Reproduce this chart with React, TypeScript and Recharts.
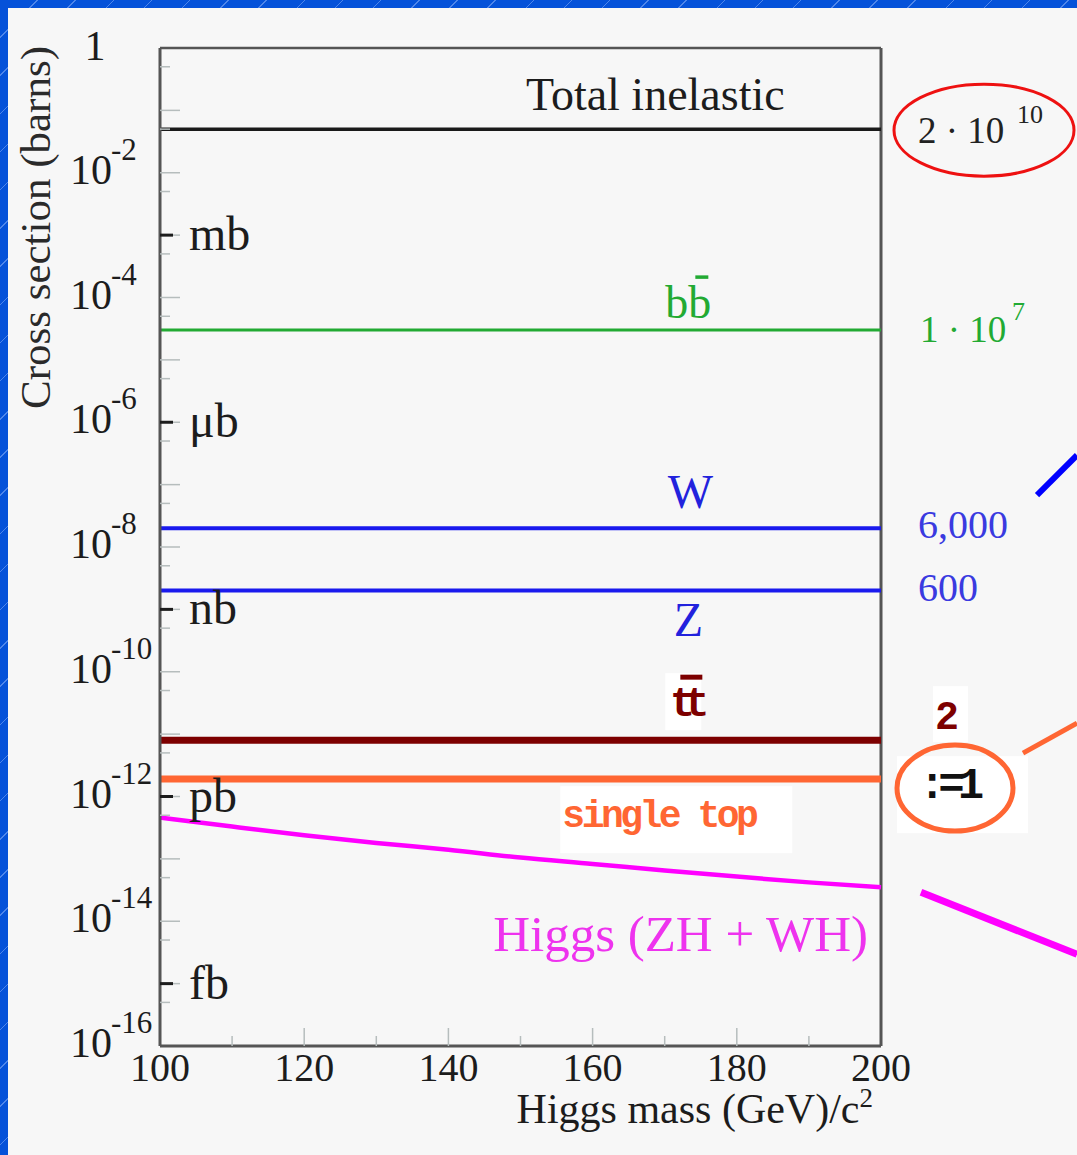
import React from 'react';
import { LineChart, Line, XAxis, YAxis, ReferenceLine, ReferenceDot } from 'recharts';

// Higgs mass scan (GeV/c^2) and ZH + WH cross section (barns)
const masses = [100, 110, 120, 130, 140, 150, 160, 170, 180, 190, 200];
const higgsXsec = [4.6e-13, 3.3e-13, 2.4e-13, 1.8e-13, 1.4e-13, 1.05e-13, 8.3e-14, 6.5e-14, 5.2e-14, 4.2e-14, 3.5e-14];

// flat background processes (barns)
const totalInelastic = 5e-2;
const bbbar = 3e-5;
const wBoson = 2e-8;
const zBoson = 2e-9;
const ttbar = 8e-12;
const singleTop = 1.9e-12;

// axis ticks
const massTicks = [100, 110, 120, 130, 140, 150, 160, 170, 180, 190, 200];
const massLabels = [100, 120, 140, 160, 180, 200];
const decadeTicks = [1, 1e-1, 1e-2, 1e-3, 1e-4, 1e-5, 1e-6, 1e-7, 1e-8, 1e-9, 1e-10, 1e-11, 1e-12, 1e-13, 1e-14, 1e-15, 1e-16];
const halfTicks = [5e-1, 5e-2, 5e-3, 5e-4, 5e-5, 5e-6, 5e-7, 5e-8, 5e-9, 5e-10, 5e-11, 5e-12, 5e-13, 5e-14, 5e-15, 5e-16];
const labelledTicks = [1, 1e-2, 1e-4, 1e-6, 1e-8, 1e-10, 1e-12, 1e-14, 1e-16];
const labelledExponents = ['0', '-2', '-4', '-6', '-8', '-10', '-12', '-14', '-16'];
const unitValues = [1e-3, 1e-6, 1e-9, 1e-12, 1e-15];
const unitNames = ['mb', 'μb', 'nb', 'pb', 'fb'];

const SERIF = '"Liberation Serif", "Times New Roman", serif';
const MONO = '"Liberation Mono", "Courier New", monospace';
const INK = '#1c1c1c';
const FRAME = '#555';
const MINOR = '#b6bdbd';

const rows = masses.map((m, i) => ({
  mass: m,
  higgs: higgsXsec[i],
  total: totalInelastic,
  bb: bbbar,
  w: wBoson,
  z: zBoson,
  tt: ttbar,
  st: singleTop,
}));

const yTickValues = [...decadeTicks, ...halfTicks].sort((a, b) => b - a);

const YTick = (props: any) => {
  const { x, y, payload } = props;
  const v = payload.value;
  const isDecade = decadeTicks.includes(v);
  const unitIdx = unitValues.indexOf(v);
  const labelIdx = labelledTicks.indexOf(v);
  const edge = v === 1 || v === 1e-16;
  return (
    <g>
      {!edge && (
        <line x1={x} x2={x + (isDecade ? 20 : 10)} y1={y} y2={y} stroke={MINOR} strokeWidth={1.5} />
      )}
      {unitIdx >= 0 && (
        <>
          <line x1={x} x2={x + 13} y1={y} y2={y} stroke={INK} strokeWidth={3} />
          <text x={x + 29} y={y + 15} fontFamily={SERIF} fontSize={48} fill={INK}>
            {unitNames[unitIdx]}
          </text>
        </>
      )}
      {labelIdx >= 0 &&
        (v === 1 ? (
          <text x={x - 65} y={y + 12} textAnchor="middle" fontFamily={SERIF} fontSize={42} fill={INK}>
            1
          </text>
        ) : (
          <g fontFamily={SERIF} fill={INK}>
            <text x={x - 90} y={y + 11} fontSize={42}>10</text>
            <text x={x - 49} y={y - 13} fontSize={31}>{labelledExponents[labelIdx]}</text>
          </g>
        ))}
    </g>
  );
};

const XTick = (props: any) => {
  const { x, y, payload } = props;
  const v = payload.value;
  const major = massLabels.includes(v);
  const edge = v === 100 || v === 200;
  return (
    <g>
      {!edge && (
        <line x1={x} x2={x} y1={y} y2={y - (major ? 18 : 10)} stroke={MINOR} strokeWidth={1.5} />
      )}
      {major && (
        <text x={x} y={y + 35} textAnchor="middle" fontFamily={SERIF} fontSize={40} fill={INK}>
          {v}
        </text>
      )}
    </g>
  );
};

// label placed relative to a data point
const note = (render: (cx: number, cy: number) => React.ReactNode) => ({
  content: (p: any) => {
    const vb = p.viewBox || {};
    const cx = (vb.x ?? 0) + (vb.width ?? 0) / 2;
    const cy = (vb.y ?? 0) + (vb.height ?? 0) / 2;
    return <g>{render(cx, cy)}</g>;
  },
});

const LABEL_MASS = 173;

export default function App() {
  return (
    <div
      style={{
        position: 'absolute',
        left: 0,
        top: 0,
        width: 1077,
        height: 1155,
        overflow: 'hidden',
        background: 'repeating-linear-gradient(135deg, #0552d9 0px, #0552d9 26px, #4f86ea 26px, #4f86ea 27px)',
      }}
    >
      <div style={{ position: 'absolute', left: 8, top: 8, width: 1069, height: 1147, background: '#f7f7f7' }} />
      <div style={{ position: 'absolute', left: 0, top: 0 }}>
        <LineChart width={1077} height={1155} data={rows} margin={{ top: 48, right: 196, bottom: 9, left: 10 }}>
          <XAxis
            dataKey="mass"
            type="number"
            domain={[100, 200]}
            ticks={massTicks}
            interval={0}
            height={100}
            tickSize={0}
            tickMargin={0}
            tickLine={false}
            axisLine={{ stroke: FRAME, strokeWidth: 3 }}
            tick={<XTick />}
            label={{
              content: (p: any) => {
                const vb = p.viewBox;
                return (
                  <text x={vb.x + vb.width - 8} y={vb.y + 77} textAnchor="end" fontFamily={SERIF} fontSize={42} fill={INK}>
                    Higgs mass (GeV)/c
                    <tspan fontSize={27} dy={-16}>2</tspan>
                  </text>
                );
              },
            }}
          />
          <YAxis
            type="number"
            scale="log"
            domain={[1e-16, 1]}
            allowDataOverflow
            ticks={yTickValues}
            interval={0}
            width={150}
            tickSize={0}
            tickMargin={0}
            tickLine={false}
            axisLine={{ stroke: FRAME, strokeWidth: 3 }}
            tick={<YTick />}
            label={{
              content: (p: any) => {
                const vb = p.viewBox;
                const tx = vb.x + 40;
                const ty = vb.y - 2;
                return (
                  <text
                    x={tx}
                    y={ty}
                    transform={`rotate(-90 ${tx} ${ty})`}
                    textAnchor="end"
                    fontFamily={SERIF}
                    fontSize={43}
                    fill="#2a2a2a"
                  >
                    Cross section (barns)
                  </text>
                );
              },
            }}
          />
          <ReferenceLine y={1} stroke={FRAME} strokeWidth={2.5} />
          <ReferenceLine x={200} stroke={FRAME} strokeWidth={3} />

          <Line dataKey="total" type="linear" stroke="#1a1a1a" strokeWidth={3.5} dot={false} isAnimationActive={false} />
          <Line dataKey="bb" type="linear" stroke="#22aa33" strokeWidth={3} dot={false} isAnimationActive={false} />
          <Line dataKey="w" type="linear" stroke="#1a1aee" strokeWidth={4} dot={false} isAnimationActive={false} />
          <Line dataKey="z" type="linear" stroke="#1a1aee" strokeWidth={4} dot={false} isAnimationActive={false} />
          <Line dataKey="tt" type="linear" stroke="#7d0000" strokeWidth={7} dot={false} isAnimationActive={false} />
          <Line dataKey="st" type="linear" stroke="#ff6633" strokeWidth={7} dot={false} isAnimationActive={false} />
          <Line dataKey="higgs" type="monotone" stroke="#ff00ff" strokeWidth={4.5} dot={false} isAnimationActive={false} />

          {/* in-plot labels */}
          <ReferenceDot
            x={LABEL_MASS}
            y={totalInelastic}
            r={1}
            fill="none"
            stroke="none"
            label={note((cx, cy) => (
              <text x={cx - 31} y={cy - 19} textAnchor="middle" fontFamily={SERIF} fontSize={46} fill={INK}>
                Total inelastic
              </text>
            ))}
          />
          <ReferenceDot
            x={LABEL_MASS}
            y={bbbar}
            r={1}
            fill="none"
            stroke="none"
            label={note((cx, cy) => (
              <g>
                <text x={cx + 2} y={cy - 12} textAnchor="middle" fontFamily={SERIF} fontSize={46} fill="#22aa33">
                  bb
                </text>
                <line x1={cx + 9} x2={cx + 22} y1={cy - 53} y2={cy - 53} stroke="#22aa33" strokeWidth={3.5} />
              </g>
            ))}
          />
          <ReferenceDot
            x={LABEL_MASS}
            y={wBoson}
            r={1}
            fill="none"
            stroke="none"
            label={note((cx, cy) => (
              <text x={cx + 4} y={cy - 20} textAnchor="middle" fontFamily={SERIF} fontSize={48} fill="#2222dd">
                W
              </text>
            ))}
          />
          <ReferenceDot
            x={LABEL_MASS}
            y={zBoson}
            r={1}
            fill="none"
            stroke="none"
            label={note((cx, cy) => (
              <text x={cx + 2} y={cy + 45} textAnchor="middle" fontFamily={SERIF} fontSize={48} fill="#2222dd">
                Z
              </text>
            ))}
          />
          <ReferenceDot
            x={LABEL_MASS}
            y={ttbar}
            r={1}
            fill="none"
            stroke="none"
            label={note((cx, cy) => (
              <g>
                <rect x={cx - 21} y={cy - 67} width={36} height={57} fill="#ffffff" />
                <text
                  x={cx - 2}
                  y={cy - 24}
                  textAnchor="middle"
                  fontFamily={MONO}
                  fontWeight="bold"
                  fontSize={42}
                  letterSpacing={-11}
                  fill="#7d0000"
                >
                  tt
                </text>
                <line x1={cx - 6} x2={cx + 16} y1={cy - 63} y2={cy - 63} stroke="#7d0000" strokeWidth={5} />
              </g>
            ))}
          />
          <ReferenceDot
            x={LABEL_MASS}
            y={singleTop}
            r={1}
            fill="none"
            stroke="none"
            label={note((cx, cy) => (
              <g>
                <rect x={cx - 126} y={cy + 7} width={232} height={67} fill="#ffffff" />
                <text
                  x={cx - 124}
                  y={cy + 48}
                  fontFamily={MONO}
                  fontWeight="bold"
                  fontSize={38}
                  letterSpacing={-3.5}
                  fill="#ff6633"
                >
                  single top
                </text>
              </g>
            ))}
          />

          {/* event counts to the right of the frame */}
          <ReferenceDot
            x={200}
            y={totalInelastic}
            r={1}
            fill="none"
            stroke="none"
            label={note((cx, cy) => (
              <g fontFamily={SERIF} fill="#222">
                <ellipse cx={cx + 103} cy={cy + 1} rx={90} ry={46} fill="none" stroke="#ee1111" strokeWidth={3} />
                <text x={cx + 37} y={cy + 14} fontSize={37}>2 · 10</text>
                <text x={cx + 136} y={cy - 6} fontSize={26}>10</text>
              </g>
            ))}
          />
          <ReferenceDot
            x={200}
            y={bbbar}
            r={1}
            fill="none"
            stroke="none"
            label={note((cx, cy) => (
              <g fontFamily={SERIF} fill="#22aa33">
                <text x={cx + 39} y={cy + 12} fontSize={37}>1 · 10</text>
                <text x={cx + 131} y={cy - 10} fontSize={26}>7</text>
              </g>
            ))}
          />
          <ReferenceDot
            x={200}
            y={wBoson}
            r={1}
            fill="none"
            stroke="none"
            label={note((cx, cy) => (
              <g>
                <text x={cx + 37} y={cy + 10} fontFamily={SERIF} fontSize={40} fill="#3a3ae0">
                  6,000
                </text>
                <line x1={cx + 156} y1={cy - 33} x2={cx + 196} y2={cy - 73} stroke="#0000ff" strokeWidth={6} />
              </g>
            ))}
          />
          <ReferenceDot
            x={200}
            y={zBoson}
            r={1}
            fill="none"
            stroke="none"
            label={note((cx, cy) => (
              <text x={cx + 37} y={cy + 10} fontFamily={SERIF} fontSize={40} fill="#3a3ae0">
                600
              </text>
            ))}
          />
          <ReferenceDot
            x={200}
            y={ttbar}
            r={1}
            fill="none"
            stroke="none"
            label={note((cx, cy) => (
              <g>
                <rect x={cx + 52} y={cy - 54} width={35} height={56} fill="#ffffff" />
                <text x={cx + 66} y={cy - 11} textAnchor="middle" fontFamily={MONO} fontWeight="bold" fontSize={40} fill="#7d0000">
                  2
                </text>
              </g>
            ))}
          />
          <ReferenceDot
            x={200}
            y={singleTop}
            r={1}
            fill="none"
            stroke="none"
            label={note((cx, cy) => (
              <g>
                <rect x={cx + 16} y={cy - 23} width={131} height={77} fill="#ffffff" />
                <ellipse cx={cx + 74} cy={cy + 9} rx={58} ry={43} fill="none" stroke="#ff6633" strokeWidth={5} />
                <text
                  x={cx + 67}
                  y={cy + 19}
                  textAnchor="middle"
                  fontFamily={MONO}
                  fontWeight="bold"
                  fontSize={44}
                  letterSpacing={-7}
                  fill="#111"
                >
                  :=1
                </text>
                <line x1={cx + 142} y1={cy - 26} x2={cx + 196} y2={cy - 56} stroke="#ff6633" strokeWidth={5} />
              </g>
            ))}
          />
          <ReferenceDot
            x={200}
            y={higgsXsec[higgsXsec.length - 1]}
            r={1}
            fill="none"
            stroke="none"
            label={note((cx, cy) => (
              <g>
                <text x={cx - 13} y={cy + 64} textAnchor="end" fontFamily={SERIF} fontSize={51} fill="#ee33ee">
                  Higgs (ZH + WH)
                </text>
                <line x1={cx + 40} y1={cy + 5} x2={cx + 196} y2={cy + 67} stroke="#ff00ff" strokeWidth={7} />
              </g>
            ))}
          />
        </LineChart>
      </div>
    </div>
  );
}
